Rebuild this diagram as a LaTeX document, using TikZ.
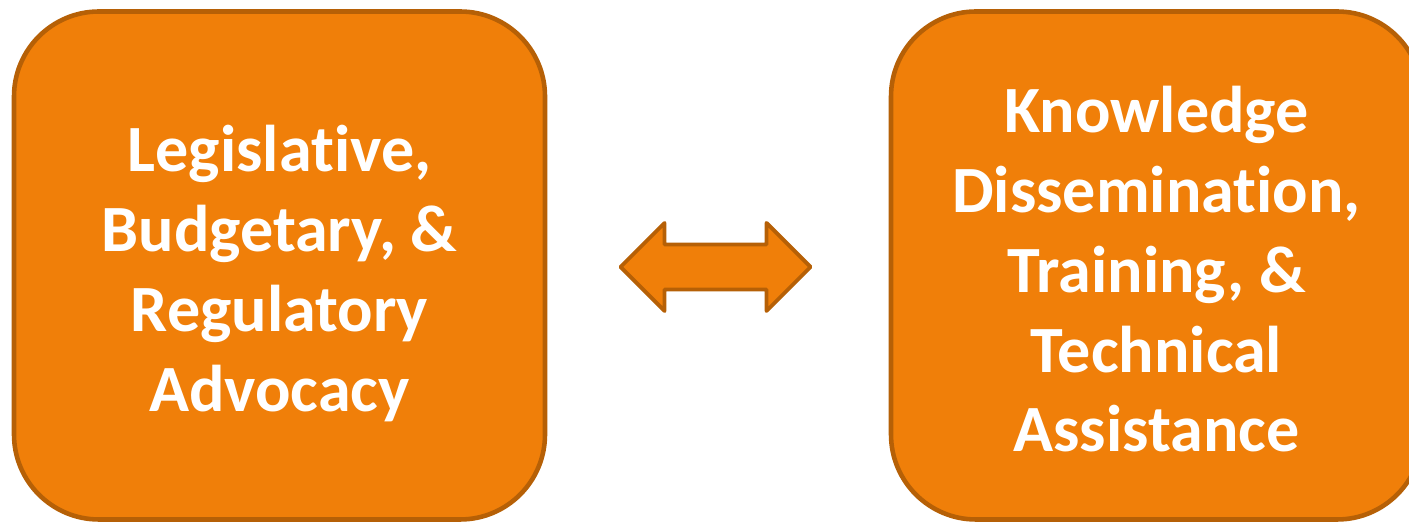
\documentclass[tikz,border=0pt]{standalone}
\usepackage{fontspec}
\setmainfont{Carlito}[Ligatures={NoCommon}]
\usepackage{tikz}
\usetikzlibrary{calc}

\definecolor{boxfill}{RGB}{240,127,9}
\definecolor{boxline}{RGB}{182,96,6}

\tikzset{
    advbox/.style={draw=boxline, fill=boxfill, line width=2.6pt,
        rounded corners=1.7cm, minimum width=10.62cm, minimum height=10.16cm,
        inner sep=0pt},
    advtext/.style={align=center, text=white, inner sep=0pt,
        font=\bfseries\fontsize{37.6}{45.4}\selectfont},
    dblarrow/.style={draw=boxline, fill=boxfill, line width=2.2pt, line join=round}
}

\begin{document}
\begin{tikzpicture}
    %% picture size
    \useasboundingbox (0,0) rectangle (28.18,10.46);
    \clip (0,0) rectangle (28.18,10.46);

    %% the two boxes
    \node[advbox] (advocacy) at (5.59,5.15) {};
    \node[advbox] (knowledge) at (23.13,5.15) {};

    %% texts in the boxes
    \node[advtext] (advocacytext) at ([yshift=-0.16cm]advocacy.center)
        {Legislative,\\Budgetary, \&\\Regulatory\\Advocacy};
    \node[advtext] (knowledgetext) at ([yshift=-0.08cm]knowledge.center)
        {Knowledge\\Dissemination,\\Training, \&\\Technical\\Assistance};

    %% arrow dimensions
    \def\Tip{1.9};
    \def\Head{1.02};
    \def\Hh{0.88};
    \def\Sh{0.45};

    %% double arrow in the middle
    \coordinate (mid) at (14.31,5.12);
    \draw[dblarrow] ($(mid)+(-\Tip,0)$) -- ++(\Head-0.14,\Hh) -- ++(0,\Sh-\Hh)
        -- ($(mid)+(\Tip-\Head+0.14,\Sh)$) -- ++(0,\Hh-\Sh)
        -- ($(mid)+(\Tip,0)$) -- ++(-\Head+0.14,-\Hh) -- ++(0,\Hh-\Sh)
        -- ($(mid)+(-\Tip+\Head-0.14,-\Sh)$) -- ++(0,\Sh-\Hh) -- cycle;
\end{tikzpicture}
\end{document}
